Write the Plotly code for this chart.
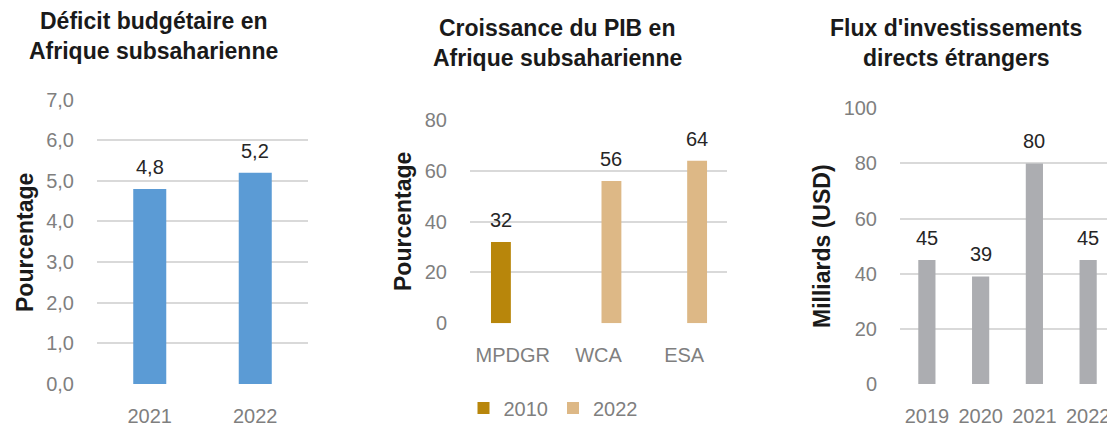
import plotly.graph_objects as go

# ---------------- data ----------------
deficit_years = ["2021", "2022"]
deficit_values = [4.8, 5.2]
deficit_labels = ["4,8", "5,2"]
deficit_ticks = [0, 1, 2, 3, 4, 5, 6, 7]
deficit_ticktext = ["0,0", "1,0", "2,0", "3,0", "4,0", "5,0", "6,0", "7,0"]

pib_categories = ["MPDGR", "WCA", "ESA"]
pib_2010 = [32, None, None]
pib_2022 = [None, 56, 64]
pib_ticks = [0, 20, 40, 60, 80]

ide_years = ["2019", "2020", "2021", "2022"]
ide_values = [45, 39, 80, 45]
ide_ticks = [0, 20, 40, 60, 80, 100]

titles = [
    ["Déficit budgétaire en", "Afrique subsaharienne"],
    ["Croissance du PIB en", "Afrique subsaharienne"],
    ["Flux d'investissements", "directs étrangers"],
]
axis_titles = ["Pourcentage", "Pourcentage", "Milliards (USD)"]

# ---------------- style ----------------
PAGE_MARGIN = 8            # default browser body margin
W, H = 1115 - PAGE_MARGIN, 428 - PAGE_MARGIN
REG = "Liberation Sans, Arial, sans-serif"
BOLD = "Liberation Sans, Arial, sans-serif"
TICK_COLOR = "#7F7F7F"
GRID = "#D9D9D9"
DARK = "#262626"
BLUE = "#5B9BD5"
GOLD = "#B8860B"
TAN = "#DDB886"
GREY = "#ACADB1"


def px(x):
    """screen x (pixels in the window) -> paper fraction"""
    return (x - PAGE_MARGIN) / W


def py(y):
    """screen y (pixels in the window) -> paper fraction"""
    return 1 - (y - PAGE_MARGIN) / H


fig = go.Figure()

fig.add_trace(go.Bar(x=deficit_years, y=deficit_values, marker_color=BLUE,
                     width=0.313, xaxis="x", yaxis="y", showlegend=False))

W_PIB = 0.232
OFF_2010, OFF_2022 = -0.255, 0.035
fig.add_trace(go.Bar(x=pib_categories, y=pib_2010, name="2010", marker_color=GOLD,
                     width=W_PIB, offset=OFF_2010, xaxis="x2", yaxis="y2"))
fig.add_trace(go.Bar(x=pib_categories, y=pib_2022, name="2022", marker_color=TAN,
                     width=W_PIB, offset=OFF_2022, xaxis="x2", yaxis="y2"))

fig.add_trace(go.Bar(x=ide_years, y=ide_values, marker_color=GREY,
                     width=0.32, xaxis="x3", yaxis="y3", showlegend=False))

annotations = []
LABEL_FONT = dict(family=REG, size=20, color=DARK)
for i, (v, t) in enumerate(zip(deficit_values, deficit_labels)):
    annotations.append(dict(x=i, y=v, xref="x", yref="y", text=t, showarrow=False,
                            yanchor="middle", yshift=22, font=LABEL_FONT))
for i, v in enumerate(pib_2010):
    if v is not None:
        annotations.append(dict(x=i + OFF_2010 + W_PIB / 2, y=v, xref="x2", yref="y2",
                                text=str(v), showarrow=False, yanchor="middle",
                                yshift=22, font=LABEL_FONT))
for i, v in enumerate(pib_2022):
    if v is not None:
        annotations.append(dict(x=i + OFF_2022 + W_PIB / 2, y=v, xref="x2", yref="y2",
                                text=str(v), showarrow=False, yanchor="middle",
                                yshift=22, font=LABEL_FONT))
for i, v in enumerate(ide_values):
    annotations.append(dict(x=i, y=v, xref="x3", yref="y3", text=str(v), showarrow=False,
                            yanchor="middle", yshift=22, font=LABEL_FONT))

TITLE_FONT = dict(family=BOLD, size=23, color="#1A1A1A", weight="bold")
title_pos = [(154, 20, 50), (557, 27, 57), (956, 27, 57)]
for (cx, y1, y2), lines in zip(title_pos, titles):
    for yy, line in zip((y1, y2), lines):
        annotations.append(dict(x=px(cx), y=py(yy + 1), xref="paper", yref="paper",
                                text=line, showarrow=False, xanchor="center",
                                yanchor="middle", font=TITLE_FONT))

ax_title_pos = [(25, 243), (403, 222), (822, 246)]
for (cx, cy), t in zip(ax_title_pos, axis_titles):
    annotations.append(dict(x=px(cx), y=py(cy), xref="paper", yref="paper", text=t,
                            showarrow=False, textangle=-90, xanchor="center",
                            yanchor="middle", font=TITLE_FONT))

xcommon = dict(type="category", showgrid=False, zeroline=False, showline=False,
               ticks="", tickfont=dict(family=REG, size=20, color=TICK_COLOR),
               ticklabelstandoff=18, fixedrange=True, automargin=False)
ycommon = dict(showgrid=True, gridcolor=GRID, gridwidth=1.8, zeroline=False,
               showline=False, ticks="", tickfont=dict(family=REG, size=20, color=TICK_COLOR),
               ticklabelstandoff=22, fixedrange=True, automargin=False)

fig.update_layout(
    template="none",
    width=W, height=H, autosize=False,
    margin=dict(l=0, r=0, t=0, b=0, pad=0),
    paper_bgcolor="white", plot_bgcolor="white",
    barmode="overlay",
    xaxis=dict(xcommon, domain=[px(97), px(308)], anchor="y",
               range=[-0.5, len(deficit_years) - 0.5]),
    yaxis=dict(ycommon, domain=[py(384), py(99.5)], range=[0, 7], anchor="x",
               tickvals=deficit_ticks, ticktext=deficit_ticktext),
    xaxis2=dict(xcommon, domain=[px(470), px(727)], anchor="y2",
                range=[-0.5, len(pib_categories) - 0.5]),
    yaxis2=dict(ycommon, domain=[py(323.3), py(120)], range=[0, 80], anchor="x2",
                tickvals=pib_ticks),
    xaxis3=dict(xcommon, domain=[px(900), px(1115)], anchor="y3",
                range=[-0.5, len(ide_years) - 0.5]),
    yaxis3=dict(ycommon, domain=[py(384), py(108.3)], range=[0, 100], anchor="x3",
                tickvals=ide_ticks),
    legend=dict(orientation="h", x=px(553), xanchor="center", y=py(408), yanchor="middle",
                font=dict(family=REG, size=20, color=TICK_COLOR), bgcolor="rgba(0,0,0,0)",
                itemclick=False, itemdoubleclick=False),
    annotations=annotations,
)

fig.write_html("out.html", config={"displayModeBar": False})
